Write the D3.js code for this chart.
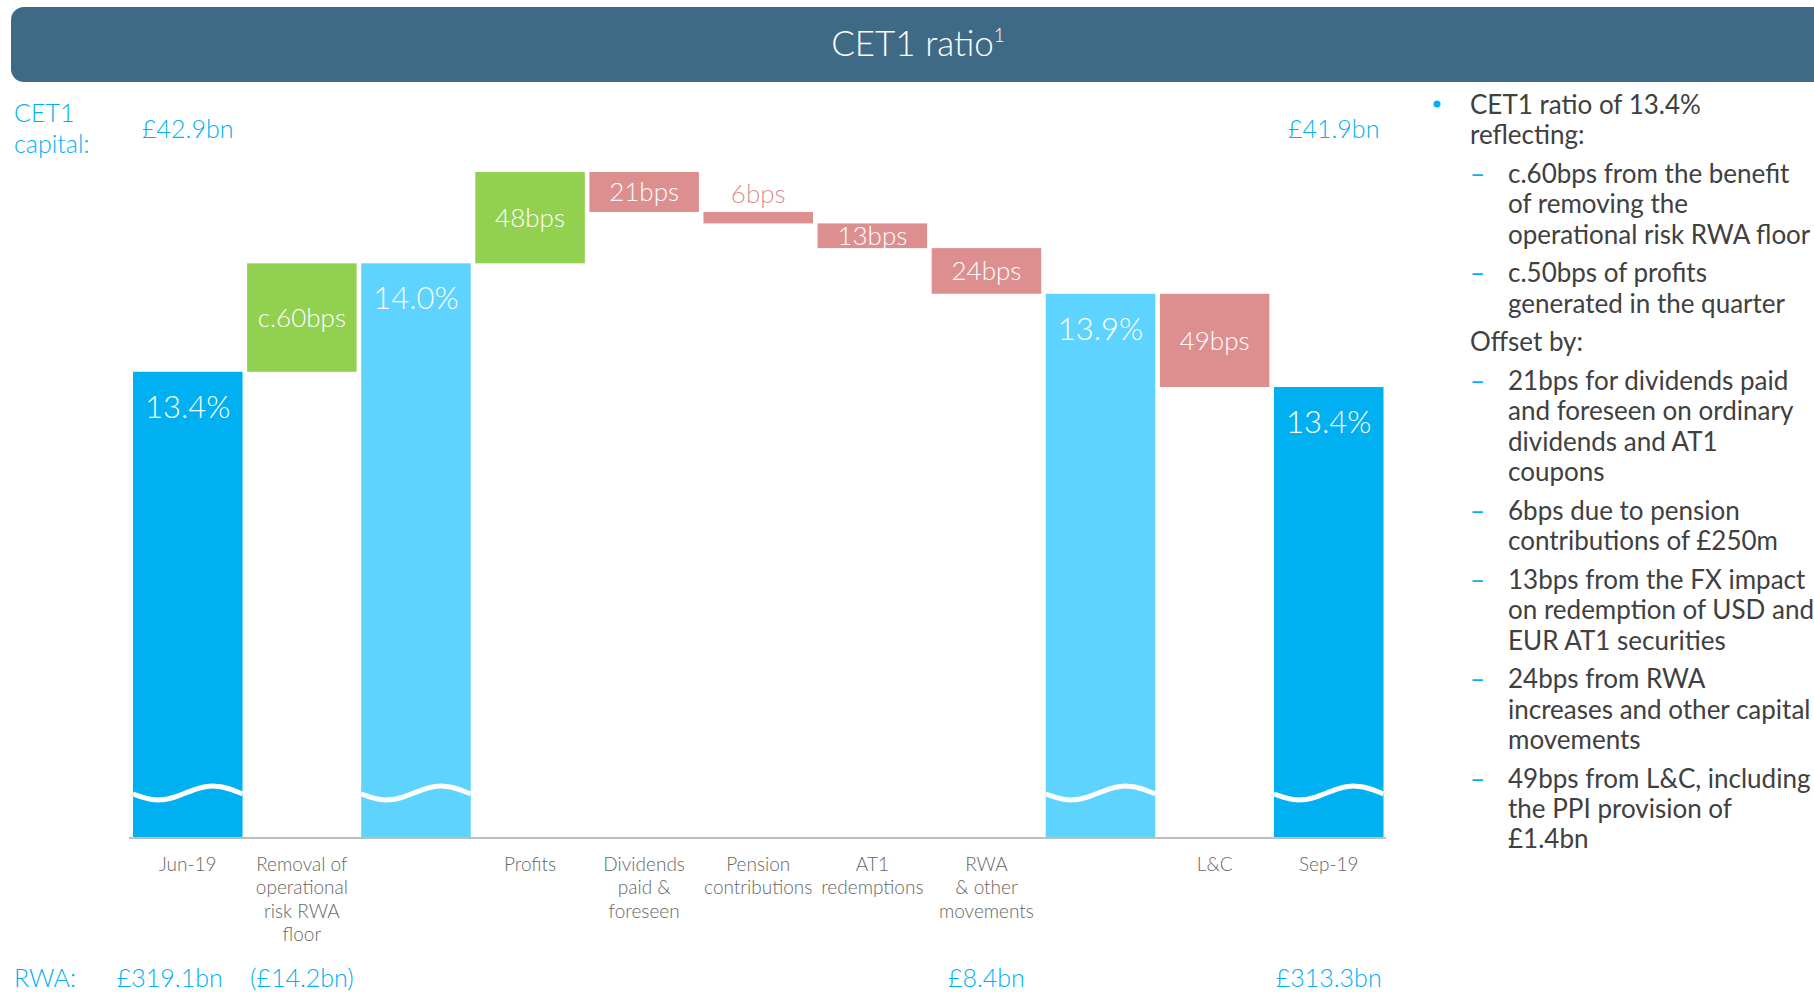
<!DOCTYPE html>
<html><head><meta charset="utf-8">
<script src="https://cdn.jsdelivr.net/npm/d3@7"></script>
<style>html,body{margin:0;padding:0;background:#fff;overflow:hidden}</style>
</head><body>
<svg id="c" width="1814" height="992" xmlns="http://www.w3.org/2000/svg"></svg>
<script>
// ---------- data ----------
const categories = ["Jun-19","Removal of operational risk RWA floor","CET1 after floor","Profits","Dividends paid & foreseen","Pension contributions","AT1 redemptions","RWA & other movements","CET1 before L&C","L&C","Sep-19"];
const axisLabels = [["Jun-19"],["Removal of","operational","risk RWA","floor"],[],["Profits"],["Dividends","paid &","foreseen"],["Pension","contributions"],["AT1","redemptions"],["RWA","& other","movements"],[],["L&C"],["Sep-19"]];
const barKinds = ["total","step","subtotal","step","step","step","step","step","subtotal","step","total"];
const startRatio = 13.43;                 // % (Jun-19)
const movementsBps = [0, 57, 0, 48, -21, -6, -13, -24, 0, -49, 0];
const barLabels = ["13.4%","c.60bps","14.0%","48bps","21bps","6bps","13bps","24bps","13.9%","49bps","13.4%"];
const capitalLabels = ["£42.9bn","","","","","","","","","","£41.9bn"];
const rwaLabels = ["£319.1bn","(£14.2bn)","","","","","","£8.4bn","","","£313.3bn"];
const title = "CET1 ratio";
const commentary = [
  {type:"bullet", lines:["CET1 ratio of 13.4%","reflecting:"]},
  {type:"dash", lines:["c.60bps from the benefit","of removing the","operational risk RWA floor"]},
  {type:"dash", lines:["c.50bps of profits","generated in the quarter"]},
  {type:"plain", lines:["Offset by:"]},
  {type:"dash", lines:["21bps for dividends paid","and foreseen on ordinary","dividends and AT1","coupons"]},
  {type:"dash", lines:["6bps due to pension","contributions of £250m"]},
  {type:"dash", lines:["13bps from the FX impact","on redemption of USD and","EUR AT1 securities"]},
  {type:"dash", lines:["24bps from RWA","increases and other capital","movements"]},
  {type:"dash", lines:["49bps from L&C, including","the PPI provision of","£1.4bn"]}
];

// ---------- styles ----------
const BLUE = "#00b0f0", LIGHT = "#5dd3fe", GREEN = "#92d050", PINK = "#dd8f8f", HEAD = "#3e6a85";
const FONT = "Lato, 'Open Sans', sans-serif";
const axisFloor = 10.98; // broken axis floor

// ---------- compute waterfall ----------
let level = startRatio;
const bars = categories.map((c, i) => {
  const kind = barKinds[i];
  if (kind === "step") {
    const prev = level;
    level = level + movementsBps[i] / 100;
    return {c, i, kind, lo: Math.min(prev, level), hi: Math.max(prev, level), up: level > prev};
  }
  return {c, i, kind, lo: axisFloor, hi: level};
});

const svg = d3.select("#c");
svg.append("rect").attr("width",1814).attr("height",992).attr("fill","#fff");

const x = d3.scaleBand().domain(categories).range([133, 1383.5]).paddingInner(0.04).paddingOuter(0);
const y = d3.scaleLinear().domain([axisFloor, d3.max(bars, d => d.hi)]).range([838, 172]);
const bw = x.bandwidth();

// header
svg.append("rect").attr("x",11).attr("y",7).attr("width",1830).attr("height",75).attr("rx",13).attr("fill",HEAD);
const t = svg.append("text").attr("x",918).attr("y",56).attr("text-anchor","middle")
  .attr("font-family",FONT).attr("font-weight",300).attr("font-size",35).attr("fill","#fff").text(title);
t.append("tspan").attr("font-size",19).attr("dy",-14).text("1");

// bars
const g = svg.append("g");
g.selectAll("rect.bar").data(bars).join("rect")
  .attr("x", d => x(d.c)).attr("width", bw)
  .attr("y", d => y(d.hi)).attr("height", d => y(d.lo) - y(d.hi))
  .attr("fill", d => d.kind === "total" ? BLUE : d.kind === "subtotal" ? LIGHT : (d.up ? GREEN : PINK));

// axis break waves
const wave = d3.line().curve(d3.curveBasis);
bars.filter(d => d.kind !== "step").forEach(d => {
  const x0 = x(d.c), yb = y(axisFloor) - 45;
  const pts = d3.range(0, 1.0001, 0.05).map(s => [x0 + s * bw, yb + 7 * Math.sin(2 * Math.PI * (s + 0.02))]);
  g.append("path").attr("d", wave(pts)).attr("fill","none").attr("stroke","#fff").attr("stroke-width",5);
});

// baseline
svg.append("line").attr("x1",129).attr("x2",1386).attr("y1",y(axisFloor)).attr("y2",y(axisFloor))
  .attr("stroke","#bdbdbd").attr("stroke-width",2);

// bar labels
bars.forEach((d, i) => {
  const cx = x(d.c) + bw / 2;
  if (d.kind !== "step") {
    svg.append("text").attr("x",cx).attr("y",y(d.hi) + 46).attr("text-anchor","middle")
      .attr("font-family",FONT).attr("font-weight",300).attr("font-size",31).attr("fill","#fff").text(barLabels[i]);
  } else {
    const h = y(d.lo) - y(d.hi);
    const inside = h > 20;
    svg.append("text").attr("x",cx)
      .attr("y", inside ? (y(d.hi) + y(d.lo)) / 2 + 9.5 : y(d.hi) - 9)
      .attr("text-anchor","middle").attr("font-family",FONT).attr("font-weight",300).attr("font-size",26)
      .attr("fill", inside ? "#fff" : PINK).text(barLabels[i]);
  }
});

// category labels
bars.forEach((d, i) => {
  const cx = x(d.c) + bw / 2;
  const tx = svg.append("text").attr("text-anchor","middle").attr("font-family",FONT).attr("font-weight",300)
    .attr("font-size",19).attr("fill","#666");
  axisLabels[i].forEach((ln, k) => tx.append("tspan").attr("x",cx).attr("y",871 + k * 23.4).text(ln));
});

// capital row
svg.append("text").attr("x",14).attr("y",122).attr("font-family",FONT).attr("font-weight",300).attr("font-size",25).attr("fill",BLUE).text("CET1");
svg.append("text").attr("x",14).attr("y",153).attr("font-family",FONT).attr("font-weight",300).attr("font-size",25).attr("fill",BLUE).text("capital:");
capitalLabels.forEach((lab, i) => {
  if (!lab) return;
  svg.append("text").attr("x", x(categories[i]) + bw / 2 + (i === 10 ? 5 : 0)).attr("y",138).attr("text-anchor","middle")
    .attr("font-family",FONT).attr("font-weight",300).attr("font-size",25).attr("fill",BLUE).text(lab);
});

// RWA row
svg.append("text").attr("x",14).attr("y",987).attr("font-family",FONT).attr("font-weight",300).attr("font-size",25).attr("fill",BLUE).text("RWA:");
rwaLabels.forEach((lab, i) => {
  if (!lab) return;
  svg.append("text").attr("x", x(categories[i]) + bw / 2 + (i === 0 ? -18 : 0)).attr("y",987).attr("text-anchor","middle")
    .attr("font-family",FONT).attr("font-weight",300).attr("font-size",25).attr("fill",BLUE).text(lab);
});

// commentary
let by = 114;
commentary.forEach((item, k) => {
  if (k > 0) by += 38.6;
  const tx = item.type === "dash" ? 1508 : 1470;
  if (item.type === "bullet") svg.append("circle").attr("cx",1437).attr("cy",by - 10).attr("r",3.5).attr("fill",BLUE);
  if (item.type === "dash") svg.append("text").attr("x",1470).attr("y",by).attr("font-family",FONT).attr("font-size",26).attr("fill",BLUE).text("–");
  item.lines.forEach((ln, j) => {
    if (j > 0) by += 30.4;
    svg.append("text").attr("x",tx).attr("y",by).attr("font-family",FONT).attr("font-size",26).attr("fill","#404040").text(ln);
  });
});
</script>
</body></html>
